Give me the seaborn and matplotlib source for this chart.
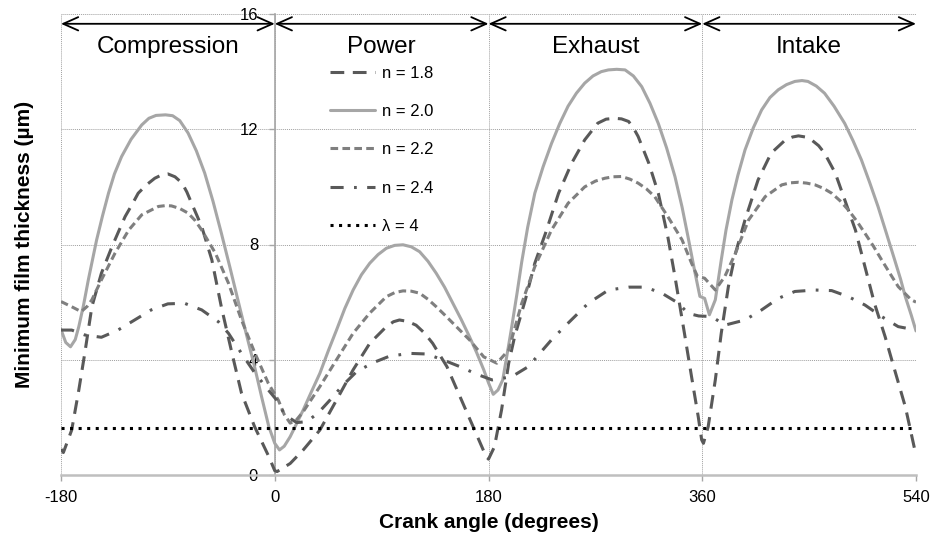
import numpy as np
import pandas as pd
import matplotlib
matplotlib.use("Agg")
import matplotlib.pyplot as plt
import seaborn as sns

sns.set_theme(style="white")
plt.rcParams["font.family"] = ["Liberation Sans", "DejaVu Sans"]

# ---------------- data ----------------
x_n20 = [-180, -176, -172, -168, -165, -161, -157, -150, -145, -140, -135, -129, -121, -112, -106, -100, -92, -86,
         -80, -73, -66, -59, -52, -45, -38, -31, -24, -17, -11, -5, 0, 4, 8, 13, 18, 24, 31, 38, 45, 52, 59, 66,
         73, 80, 87, 94, 101, 108, 115, 122, 129, 136, 143, 150, 157, 164, 170, 176, 180, 184, 188, 192, 199,
         204, 208, 213, 219, 226, 233, 240, 247, 254, 261, 268, 275, 281, 288, 295, 302, 309, 316, 323, 330, 337,
         343, 348, 354, 358, 362, 366, 371, 376, 380, 385, 390, 396, 403, 410, 417, 424, 431, 438, 444, 449, 456,
         463, 471, 480, 487, 494, 501, 508, 515, 522, 527, 531, 536, 540]
y_n20 = [5.05, 4.6, 4.45, 4.7, 5.15, 5.9, 6.77, 8.16, 9.0, 9.78, 10.45, 11.05, 11.65, 12.15, 12.38, 12.48, 12.5,
         12.47, 12.3, 11.87, 11.25, 10.48, 9.5, 8.4, 7.25, 6.07, 4.9, 3.76, 2.7, 1.68, 1.1, 0.87, 1.0, 1.33, 1.75,
         2.26, 2.9, 3.53, 4.3, 5.03, 5.78, 6.42, 6.95, 7.35, 7.65, 7.87, 7.97, 7.99, 7.92, 7.75, 7.42, 7.0, 6.52,
         5.96, 5.4, 4.8, 4.25, 3.65, 3.2, 2.8, 2.95, 3.3, 5.0, 6.3, 7.4, 8.6, 9.78, 10.7, 11.5, 12.2, 12.8, 13.25,
         13.6, 13.85, 14.0, 14.06, 14.08, 14.06, 13.85, 13.48, 12.9, 12.2, 11.35, 10.36, 9.3, 8.27, 7.0, 6.2,
         6.13, 5.56, 6.08, 7.46, 8.5, 9.55, 10.4, 11.28, 12.05, 12.67, 13.1, 13.37, 13.55, 13.66, 13.69, 13.66,
         13.5, 13.25, 12.8, 12.2, 11.6, 10.94, 10.15, 9.32, 8.4, 7.47, 6.8, 6.19, 5.55, 5.0]

x_n18 = [-180, -178, -171, -165, -160, -154, -146, -137, -131, -126, -120, -115, -108, -101, -95, -90, -84, -78,
         -74, -70, -66, -61.5, -53, -45, -36, -28, -17, -5, 0, 2, 13, 24, 38, 52, 66, 80, 94, 100, 105, 112, 119,
         126, 133, 145, 156, 167, 178, 180, 185, 191, 197, 202, 211, 219, 228, 239, 250, 261, 272, 279, 286, 292,
         298, 302, 306, 315, 323, 331, 337, 345, 351, 356.6, 359.5, 361, 365, 371, 376, 382, 388, 396, 407, 418,
         430, 436, 441, 447, 452, 458, 463, 472, 480, 489, 497, 505, 514, 522, 531, 539, 540]
y_n18 = [0.9, 0.78, 1.56, 2.95, 4.22, 5.84, 7.0, 7.93, 8.5, 8.97, 9.4, 9.78, 10.07, 10.3, 10.42, 10.45, 10.35,
         10.13, 9.82, 9.43, 9.05, 8.62, 7.47, 5.84, 4.22, 2.84, 1.68, 0.64, 0.15, 0.12, 0.4, 0.87, 1.56, 2.6, 3.65,
         4.57, 5.15, 5.32, 5.38, 5.33, 5.2, 4.93, 4.57, 3.76, 2.72, 1.68, 0.64, 0.55, 0.98, 2.26, 3.88, 4.8, 6.08,
         7.35, 8.39, 9.78, 10.82, 11.63, 12.21, 12.35, 12.38, 12.36, 12.27, 12.05, 11.75, 10.82, 9.78, 8.27, 6.89,
         4.92, 3.41, 2.03, 1.22, 1.1, 1.68, 3.3, 4.92, 6.54, 7.7, 8.85, 10.24, 11.17, 11.63, 11.73, 11.77, 11.73,
         11.63, 11.43, 11.17, 10.48, 9.55, 8.5, 7.23, 5.96, 4.8, 3.65, 2.37, 0.87, 0.75]

x_n22 = [-180, -171, -163, -158, -154, -146, -134.5, -123, -112, -98, -92, -87, -80, -73, -67, -61.5, -50, -39,
         -28, -16.6, -5.4, 3, 8, 13, 18, 24, 38, 52, 66, 80, 94, 101, 108, 115, 122, 129, 136, 143, 150, 164, 176,
         187, 197, 208, 219, 233, 247, 261, 270, 278, 285, 292, 299, 306, 313, 320, 331, 343, 351, 356, 362, 371,
         379, 388, 399, 413, 427, 434, 441, 448, 455, 462, 469, 476, 483, 490, 497, 504, 511, 518, 525, 536, 540]
y_n22 = [6.02, 5.84, 5.67, 5.85, 6.08, 6.77, 7.7, 8.5, 9.03, 9.32, 9.35, 9.34, 9.25, 9.09, 8.83, 8.5, 7.7, 6.66,
         5.38, 4.22, 3.18, 2.6, 2.1, 1.8, 1.9, 2.2, 3.07, 4.0, 4.92, 5.62, 6.19, 6.33, 6.39, 6.38, 6.31, 6.1, 5.84,
         5.56, 5.27, 4.69, 4.1, 3.88, 4.34, 5.96, 7.23, 8.5, 9.43, 10.0, 10.2, 10.3, 10.35, 10.36, 10.27, 10.13,
         9.93, 9.66, 8.97, 8.16, 7.35, 6.89, 6.83, 6.42, 6.89, 7.7, 8.85, 9.66, 10.07, 10.14, 10.16, 10.13, 10.07,
         9.95, 9.78, 9.52, 9.2, 8.82, 8.39, 7.95, 7.47, 7.0, 6.54, 6.08, 6.0]

x_n24 = [-180, -171, -160, -146, -132, -118, -104, -90, -76, -61.5, -47.5, -39, -28, -16.6, -5.4, 1.6, 8.6, 18.5,
         27, 36.7, 46.5, 57.7, 69, 83, 97, 114, 128, 142, 156, 170, 183, 199.5, 213.5, 233, 247, 264, 281, 298,
         312, 326, 340, 348, 357, 368, 379, 396, 410, 424, 438, 455, 469, 483, 497, 511, 525, 540]
y_n24 = [5.03, 5.03, 4.86, 4.78, 5.03, 5.38, 5.73, 5.94, 5.96, 5.73, 5.32, 4.92, 4.22, 3.53, 2.95, 2.6, 2.08, 1.82,
         1.85, 2.16, 2.6, 3.13, 3.59, 3.9, 4.13, 4.22, 4.2, 3.99, 3.76, 3.5, 3.3, 3.41, 3.76, 4.69, 5.27, 5.96,
         6.42, 6.52, 6.52, 6.31, 5.96, 5.61, 5.52, 5.5, 5.2, 5.38, 5.73, 6.13, 6.37, 6.42, 6.4, 6.19, 5.9, 5.5,
         5.15, 5.03]

x_lam = [-180, 540]
y_lam = [1.64, 1.64]

x_ticks = [-180, 0, 180, 360, 540]
y_ticks = [0, 4, 8, 12, 16]
strokes = ["Compression", "Power", "Exhaust", "Intake"]
stroke_bounds = [-180, 0, 180, 360, 540]

# ---------------- figure ----------------
fig = plt.figure(figsize=(9.34, 5.41), dpi=100)
ax = fig.add_axes([61 / 934, 1 - 475 / 541, 855 / 934, 461 / 541])

lw = 2.2
series = [
    (x_n18, y_n18, "n = 1.8", "#595959", (0, (4.5, 2.8))),
    (x_n20, y_n20, "n = 2.0", "#A6A6A6", "-"),
    (x_n22, y_n22, "n = 2.2", "#7F7F7F", (0, (2.5, 1.4))),
    (x_n24, y_n24, "n = 2.4", "#595959", (0, (4.3, 3.4, 0.9, 3.4))),
    (x_lam, y_lam, "λ = 4", "#000000", (0, (1, 1.8))),
]
for xs, ys, lab, col, ls in series:
    sns.lineplot(x=xs, y=ys, ax=ax, color=col, linewidth=lw, linestyle=ls,
                 label=lab, errorbar=None, sort=False, zorder=3)
for ln in ax.lines:
    ln.set_solid_joinstyle("round")
    ln.set_dash_joinstyle("round")

ax.set_xlim(-180, 540)
ax.set_ylim(0, 16)
ax.set_xticks(x_ticks)
ax.set_xticklabels([str(v) for v in x_ticks])
ax.set_yticks(y_ticks)
ax.set_yticklabels([str(v) for v in y_ticks])

ax.spines["left"].set_position(("data", 0))
ax.spines["top"].set_visible(False)
ax.spines["right"].set_visible(False)
ax.spines["left"].set_color("#A6A6A6")
ax.spines["left"].set_linewidth(1.2)
ax.spines["bottom"].set_color("#BFBFBF")
ax.spines["bottom"].set_linewidth(1.8)
ax.spines["left"].set_zorder(2)
ax.spines["bottom"].set_zorder(2)

ax.grid(True, color="#A0A0A0", linestyle=(0, (1, 1)), linewidth=0.7)
ax.set_axisbelow(True)

ax.tick_params(axis="both", bottom=True, left=True, direction="out", length=4, width=1,
               color="#A6A6A6", labelsize=12, labelcolor="black")
ax.tick_params(axis="y", pad=8)
ax.tick_params(axis="x", pad=7)

ax.set_xlabel("Crank angle (degrees)", fontsize=15, fontweight="bold", color="black")
ax.set_ylabel("Minimum film thickness (µm)", fontsize=15, fontweight="bold", color="black")
ax.xaxis.set_label_coords(0.5, -0.083)
ax.yaxis.set_label_coords(-0.032, 0.5)

# stroke arrows and labels
for i, name in enumerate(strokes):
    a, b = stroke_bounds[i], stroke_bounds[i + 1]
    ax.annotate("", xy=(b, 15.66), xytext=(a, 15.66), annotation_clip=False,
                arrowprops=dict(arrowstyle="<->,head_length=0.9,head_width=0.4", color="black",
                                lw=1.3, shrinkA=0, shrinkB=0))
    ax.text((a + b) / 2, 14.85, name, ha="center", va="center", fontsize=17.5, color="black")

leg = ax.legend(loc="upper left", bbox_to_anchor=(0.3146, 0.888), frameon=False, fontsize=12,
                handlelength=2.7, handletextpad=0.45, labelspacing=1.4, borderpad=0, borderaxespad=0)
for t in leg.get_texts():
    t.set_color("black")

fig.savefig("out.png", dpi=100)
